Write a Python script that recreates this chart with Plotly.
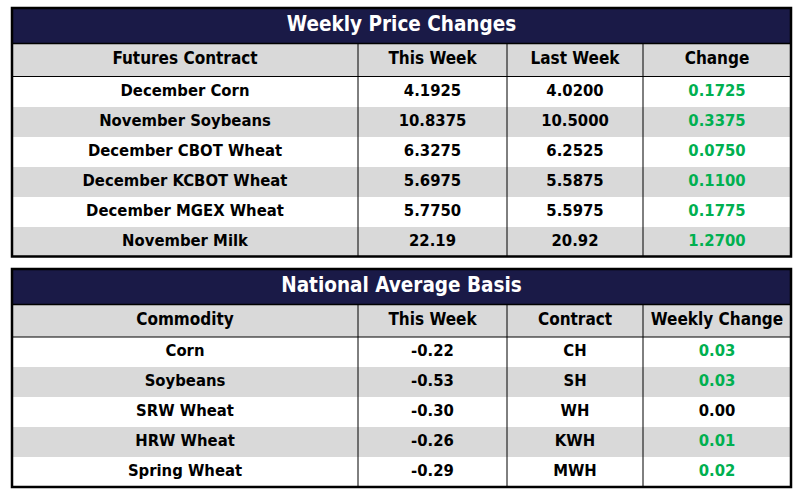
import plotly.graph_objects as go

W, H = 804, 497

# ---------------- data ----------------
price_title = "Weekly Price Changes"
price_headers = ["Futures Contract", "This Week", "Last Week", "Change"]
price_contracts = ["December Corn", "November Soybeans", "December CBOT Wheat",
                   "December KCBOT Wheat", "December MGEX Wheat", "November Milk"]
price_this_week = [4.1925, 10.8375, 6.3275, 5.6975, 5.7750, 22.19]
price_last_week = [4.0200, 10.5000, 6.2525, 5.5875, 5.5975, 20.92]
price_change = [0.1725, 0.3375, 0.0750, 0.1100, 0.1775, 1.2700]
price_decimals = [4, 4, 4, 4, 4, 2]

basis_title = "National Average Basis"
basis_headers = ["Commodity", "This Week", "Contract", "Weekly Change"]
basis_commodities = ["Corn", "Soybeans", "SRW Wheat", "HRW Wheat", "Spring Wheat"]
basis_this_week = [-0.22, -0.53, -0.30, -0.26, -0.29]
basis_contracts = ["CH", "SH", "WH", "KWH", "MWH"]
basis_change = [0.03, 0.03, 0.00, 0.01, 0.02]

# ---------------- style / layout (pixel units of the canvas) ----------------
NAVY = "#1a1a47"
GRAY = "#d9d9d9"
WHITE = "#ffffff"
GREEN = "#00b050"
BLACK = "#000000"
FONT = "DejaVu Sans Condensed, DejaVu Sans, sans-serif"
TITLE_SIZE = 20.5
HEAD_SIZE = 17
CELL_SIZE = 16.5
col_edges = [12, 358, 507, 643, 791]
col_centers = [(col_edges[i] + col_edges[i + 1]) / 2 for i in range(4)]


def b(s):
    return "<b>%s</b>" % s


fig = go.Figure()
shapes = []


def add_block(title, headers, columns, colors, top, title_h, head_h, row_h):
    n = len(columns[0])
    t2 = top + title_h
    t3 = t2 + head_h
    bottom = t3 + n * row_h
    y_edges = [top, t2, t3] + [t3 + (i + 1) * row_h for i in range(n)]
    y_centers = [(y_edges[i] + y_edges[i + 1]) / 2 for i in range(len(y_edges) - 1)]
    # cell fills: 2 = title (navy), 1 = gray, 0 = white
    z = [[2] * 4, [1] * 4] + [[i % 2] * 4 for i in range(n)]
    fig.add_trace(go.Heatmap(
        x=col_edges, y=y_edges, z=z, zmin=0, zmax=2,
        colorscale=[[0, WHITE], [0.5, GRAY], [1, NAVY]],
        showscale=False, hoverinfo="skip", xgap=0, ygap=0,
    ))
    # title text
    fig.add_trace(go.Scatter(
        x=[(col_edges[0] + col_edges[-1]) / 2], y=[y_centers[0]],
        mode="text", text=[b(title)], textposition="middle center",
        textfont=dict(family=FONT, size=TITLE_SIZE, color=WHITE),
        hoverinfo="skip", showlegend=False,
    ))
    # header text
    fig.add_trace(go.Scatter(
        x=col_centers, y=[y_centers[1]] * 4,
        mode="text", text=[b(h) for h in headers], textposition="middle center",
        textfont=dict(family=FONT, size=HEAD_SIZE, color=BLACK),
        hoverinfo="skip", showlegend=False,
    ))
    # body text
    xs, ys, ts, cs = [], [], [], []
    for c in range(4):
        for r in range(n):
            xs.append(col_centers[c])
            ys.append(y_centers[2 + r])
            ts.append(b(columns[c][r]))
            cs.append(colors[c][r])
    fig.add_trace(go.Scatter(
        x=xs, y=ys, mode="text", text=ts, textposition="middle center",
        textfont=dict(family=FONT, size=CELL_SIZE, color=cs),
        hoverinfo="skip", showlegend=False,
    ))
    # grid lines
    x0, x1 = col_edges[0], col_edges[-1]
    shapes.append(dict(type="line", xref="x", yref="y", x0=x0, x1=x1, y0=t2, y1=t2,
                       line=dict(color=BLACK, width=1.5)))
    shapes.append(dict(type="line", xref="x", yref="y", x0=x0, x1=x1, y0=t3, y1=t3,
                       line=dict(color=BLACK, width=1)))
    for xe in col_edges[1:-1]:
        shapes.append(dict(type="line", xref="x", yref="y", x0=xe, x1=xe, y0=t2, y1=bottom,
                           line=dict(color=BLACK, width=1)))
    shapes.append(dict(type="rect", xref="x", yref="y", x0=x0, x1=x1, y0=top, y1=bottom,
                       line=dict(color=BLACK, width=2.5)))


# table 1
p_cols = [
    price_contracts,
    ["%.*f" % (d, v) for v, d in zip(price_this_week, price_decimals)],
    ["%.*f" % (d, v) for v, d in zip(price_last_week, price_decimals)],
    ["%.4f" % v for v in price_change],
]
p_colors = [[BLACK] * 6, [BLACK] * 6, [BLACK] * 6,
            [GREEN if v > 0 else BLACK for v in price_change]]
add_block(price_title, price_headers, p_cols, p_colors, 8, 35.5, 33, 30)

# table 2
b_cols = [
    basis_commodities,
    ["%.2f" % v for v in basis_this_week],
    basis_contracts,
    ["%.2f" % v for v in basis_change],
]
b_colors = [[BLACK] * 5, [BLACK] * 5, [BLACK] * 5,
            [GREEN if v > 0 else BLACK for v in basis_change]]
add_block(basis_title, basis_headers, b_cols, b_colors, 269, 35.5, 32.5, 30)

fig.update_layout(
    width=W, height=H, margin=dict(l=0, r=0, t=0, b=0),
    paper_bgcolor=WHITE, plot_bgcolor=WHITE, shapes=shapes, showlegend=False,
    xaxis=dict(range=[0, W], visible=False, fixedrange=True),
    yaxis=dict(range=[H, 0], visible=False, fixedrange=True),
)
fig.write_html("out.html", config={"displayModeBar": False, "staticPlot": True},
               post_script="document.body.style.margin='0';")
